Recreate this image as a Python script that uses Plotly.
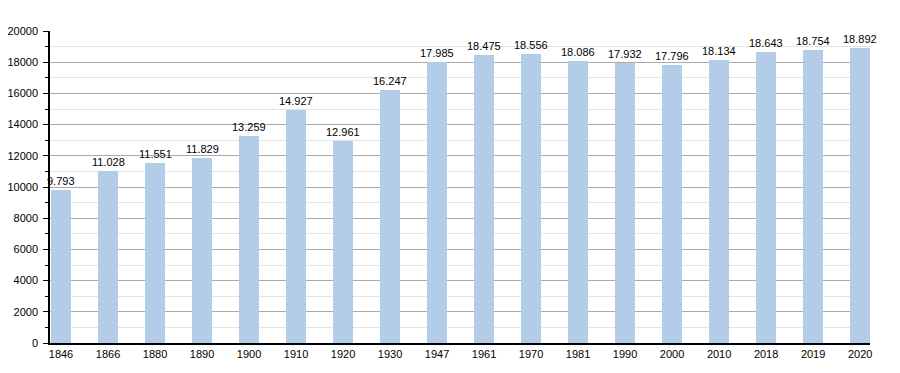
import plotly.graph_objects as go

years = ["1846", "1866", "1880", "1890", "1900", "1910", "1920", "1930", "1947",
         "1961", "1970", "1981", "1990", "2000", "2010", "2018", "2019", "2020"]
population = [9793, 11028, 11551, 11829, 13259, 14927, 12961, 16247, 17985,
              18475, 18556, 18086, 17932, 17796, 18134, 18643, 18754, 18892]
labels = [f"{v:,}".replace(",", ".") for v in population]
idx = list(range(len(years)))

FONT = "Liberation Sans, Arial, sans-serif"

fig = go.Figure()
fig.add_trace(go.Bar(
    x=idx, y=population, width=0.43,
    marker=dict(color="#b3cde8", line=dict(width=0)),
    hoverinfo="skip",
))
for i, v, t in zip(idx, population, labels):
    fig.add_annotation(
        x=i, y=v, text=t, showarrow=False,
        xanchor="center", yanchor="bottom", yshift=1,
        font=dict(family=FONT, size=11, color="#000"),
    )

# page body has an 8px margin; offset the plot so the plot area matches
fig.update_layout(
    width=884, height=357,
    margin=dict(l=42, r=22, t=23, b=22),
    plot_bgcolor="white", paper_bgcolor="white",
    showlegend=False,
    font=dict(family=FONT, size=11, color="#000"),
    bargap=0,
)
fig.update_xaxes(
    tickmode="array", tickvals=idx, ticktext=years,
    range=[-0.234, 17.21], showgrid=False, automargin=False,
    showline=True, linecolor="#000", linewidth=1.5, ticks="", zeroline=False,
)
fig.update_yaxes(
    range=[0, 20000], dtick=2000, tickformat="d", automargin=False,
    showgrid=True, gridcolor="#aaaaaa", gridwidth=1,
    showline=True, linecolor="#000", linewidth=1.5,
    ticks="outside", ticklen=5, tickcolor="#000", ticklabelstandoff=3,
    minor=dict(dtick=1000, showgrid=True, gridcolor="#e4e4e4", ticks="outside", ticklen=3, tickcolor="#000"),
    zeroline=False,
)
fig.write_html("out.html")
